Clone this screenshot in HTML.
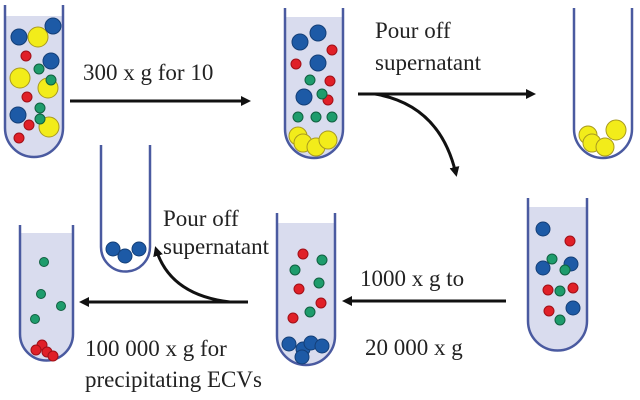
<!DOCTYPE html>
<html><head><meta charset="utf-8"><style>
html,body{margin:0;padding:0;background:#fff;width:640px;height:400px;overflow:hidden}
text{font-family:"Liberation Serif",serif;fill:#222}
</style></head><body>
<svg width="640" height="400" viewBox="0 0 640 400" xmlns="http://www.w3.org/2000/svg">
<defs>
<marker id="ah" markerWidth="10" markerHeight="10" refX="7" refY="5" orient="auto" markerUnits="userSpaceOnUse"><path d="M0,0 L10,5 L0,10 Z" fill="#111"/></marker>
</defs>
<g stroke="#4a5aa0" stroke-width="2.5">
<path d="M5,16 V128 A29,29 0 0 0 63,128 V16 Z" fill="#d9dcee" stroke="none"/>
<path d="M5,5 V128 A29,29 0 0 0 63,128 V5" fill="none"/>
<path d="M285,17 V129 A29,29 0 0 0 343,129 V17 Z" fill="#d9dcee" stroke="none"/>
<path d="M285,8 V129 A29,29 0 0 0 343,129 V8" fill="none"/>
<path d="M574,8 V129 A29,29 0 0 0 632,129 V8" fill="none"/>
<path d="M528,207 V321 A29.5,29.5 0 0 0 587,321 V207 Z" fill="#d9dcee" stroke="none"/>
<path d="M528,198 V321 A29.5,29.5 0 0 0 587,321 V198" fill="none"/>
<path d="M277,223 V336 A29,29 0 0 0 335,336 V223 Z" fill="#d9dcee" stroke="none"/>
<path d="M277,213 V336 A29,29 0 0 0 335,336 V213" fill="none"/>
<path d="M101,145 V247 A24.5,24.5 0 0 0 150,247 V145" fill="none"/>
<path d="M20,233 V334 A26.5,26.5 0 0 0 73,334 V233 Z" fill="#d9dcee" stroke="none"/>
<path d="M20,225 V334 A26.5,26.5 0 0 0 73,334 V225" fill="none"/>
</g>
<g stroke-width="1">
<g fill="#f2ec1a" stroke="#a89a20">
<circle cx="38" cy="37" r="10"/><circle cx="20" cy="78" r="10"/><circle cx="48" cy="88" r="10"/><circle cx="49" cy="127" r="10"/>
</g>
<g fill="#1d5aa6" stroke="#143f78">
<circle cx="19" cy="37" r="8"/><circle cx="53" cy="26" r="8"/><circle cx="51" cy="61" r="8"/><circle cx="18" cy="115" r="8"/>
</g>
<g fill="#e02028" stroke="#a01018">
<circle cx="26" cy="56" r="5"/><circle cx="27" cy="97" r="5"/><circle cx="29" cy="125" r="5"/><circle cx="19" cy="138" r="5"/>
</g>
<g fill="#1e9c6c" stroke="#106040">
<circle cx="39" cy="69" r="5"/><circle cx="51" cy="80" r="5"/><circle cx="40" cy="108" r="5"/><circle cx="40" cy="119" r="5"/>
</g>
<g fill="#1d5aa6" stroke="#143f78">
<circle cx="300" cy="42" r="8"/><circle cx="318" cy="33" r="8"/><circle cx="318" cy="63" r="8"/><circle cx="304" cy="97" r="8"/>
</g>
<g fill="#e02028" stroke="#a01018">
<circle cx="332" cy="50" r="5"/><circle cx="296" cy="64" r="5"/><circle cx="330" cy="81" r="5"/><circle cx="328" cy="100" r="5"/>
</g>
<g fill="#1e9c6c" stroke="#106040">
<circle cx="310" cy="80" r="5"/><circle cx="322" cy="94" r="5"/><circle cx="298" cy="117" r="5"/><circle cx="316" cy="117" r="5"/><circle cx="332" cy="117" r="5"/>
</g>
<g fill="#f2ec1a" stroke="#a89a20">
<circle cx="298" cy="136" r="9"/><circle cx="303" cy="143" r="9"/><circle cx="316" cy="147" r="9"/><circle cx="328" cy="140" r="9"/>
</g>
<g fill="#f2ec1a" stroke="#a89a20">
<circle cx="588" cy="135" r="9"/><circle cx="592" cy="143" r="9"/><circle cx="605" cy="147" r="9"/><circle cx="616" cy="130" r="10"/>
</g>
<g fill="#1d5aa6" stroke="#143f78">
<circle cx="543" cy="229" r="7"/><circle cx="543" cy="268" r="7"/><circle cx="571" cy="264" r="7"/><circle cx="573" cy="308" r="7"/>
</g>
<g fill="#e02028" stroke="#a01018">
<circle cx="570" cy="241" r="5"/><circle cx="548" cy="290" r="5"/><circle cx="573" cy="288" r="5"/><circle cx="549" cy="311" r="5"/>
</g>
<g fill="#1e9c6c" stroke="#106040">
<circle cx="552" cy="259" r="5"/><circle cx="565" cy="270" r="5"/><circle cx="560" cy="291" r="5"/><circle cx="560" cy="320" r="5"/>
</g>
<g fill="#e02028" stroke="#a01018">
<circle cx="303" cy="254" r="5"/><circle cx="299" cy="289" r="5"/><circle cx="321" cy="303" r="5"/><circle cx="293" cy="318" r="5"/>
</g>
<g fill="#1e9c6c" stroke="#106040">
<circle cx="322" cy="260" r="5"/><circle cx="295" cy="270" r="5"/><circle cx="319" cy="283" r="5"/><circle cx="310" cy="312" r="5"/>
</g>
<g fill="#1d5aa6" stroke="#143f78">
<circle cx="289" cy="344" r="7"/><circle cx="303" cy="349" r="7"/><circle cx="311" cy="343" r="7"/><circle cx="322" cy="346" r="7"/><circle cx="302" cy="357" r="7"/>
</g>
<g fill="#1d5aa6" stroke="#143f78">
<circle cx="113" cy="249" r="7"/><circle cx="125" cy="256" r="7"/><circle cx="139" cy="249" r="7"/>
</g>
<g fill="#1e9c6c" stroke="#106040">
<circle cx="44" cy="262" r="4.5"/><circle cx="41" cy="294" r="4.5"/><circle cx="61" cy="306" r="4.5"/><circle cx="35" cy="319" r="4.5"/>
</g>
<g fill="#e02028" stroke="#a01018">
<circle cx="42" cy="345" r="5"/><circle cx="36" cy="350" r="5"/><circle cx="47" cy="352" r="5"/><circle cx="53" cy="356" r="5"/>
</g>
</g>
<g stroke="#111" stroke-width="3" fill="none">
<line x1="70" y1="101" x2="248" y2="101" marker-end="url(#ah)"/>
<line x1="358" y1="94" x2="533" y2="94" marker-end="url(#ah)"/>
<path d="M375,94 Q440,105 456,174" marker-end="url(#ah)"/>
<line x1="506" y1="301" x2="345" y2="301" marker-end="url(#ah)"/>
<line x1="248" y1="302" x2="82" y2="302" marker-end="url(#ah)"/>
<path d="M230,302 Q170,295 156,249" marker-end="url(#ah)"/>
</g>
<g font-size="23">
<text x="83" y="80">300 x g for 10</text>
<text x="375" y="38">Pour off</text>
<text x="375" y="70">supernatant</text>
<text x="360" y="286">1000 x g to</text>
<text x="365" y="355">20 000 x g</text>
<text x="163" y="226">Pour off</text>
<text x="163" y="254">supernatant</text>
<text x="85" y="356">100 000 x g for</text>
<text x="85" y="387">precipitating ECVs</text>
</g>
</svg>
</body></html>
